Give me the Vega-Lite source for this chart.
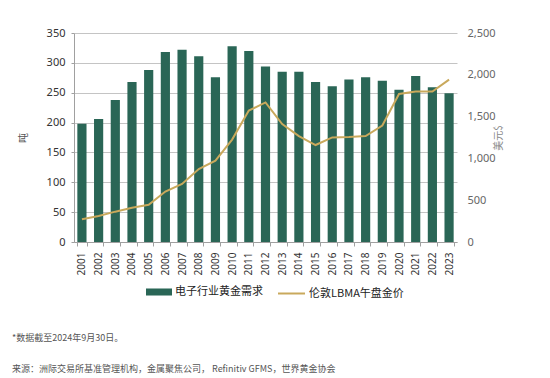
{
  "$schema": "https://vega.github.io/schema/vega-lite/v6.json",
  "autosize": "none",
  "width": 383,
  "height": 209,
  "padding": {"left": 74, "top": 33, "right": 93, "bottom": 136},
  "background": "white",
  "config": {
    "font": "Noto Sans, Noto Sans CJK SC",
    "view": {"stroke": null},
    "axis": {"labelFont": "Noto Sans, Noto Sans CJK SC", "titleFont": "Noto Sans CJK SC"}
  },
  "data": {
    "values": [
      {"year": "2001", "demand": 198, "price": 271},
      {"year": "2002", "demand": 206, "price": 310},
      {"year": "2003", "demand": 238, "price": 363},
      {"year": "2004", "demand": 268, "price": 410},
      {"year": "2005", "demand": 288, "price": 445},
      {"year": "2006", "demand": 318, "price": 604},
      {"year": "2007", "demand": 322, "price": 695},
      {"year": "2008", "demand": 311, "price": 872},
      {"year": "2009", "demand": 276, "price": 972},
      {"year": "2010", "demand": 328, "price": 1225},
      {"year": "2011", "demand": 320, "price": 1572},
      {"year": "2012", "demand": 294, "price": 1669},
      {"year": "2013", "demand": 285, "price": 1411},
      {"year": "2014", "demand": 285, "price": 1266},
      {"year": "2015", "demand": 268, "price": 1160},
      {"year": "2016", "demand": 261, "price": 1251},
      {"year": "2017", "demand": 272, "price": 1257},
      {"year": "2018", "demand": 276, "price": 1268},
      {"year": "2019", "demand": 270, "price": 1393},
      {"year": "2020", "demand": 255, "price": 1770},
      {"year": "2021", "demand": 278, "price": 1799},
      {"year": "2022", "demand": 259, "price": 1800},
      {"year": "2023", "demand": 249, "price": 1943}
    ]
  },
  "title": {
    "text": "*数据截至2024年9月30日。",
    "subtitle": "来源：洲际交易所基准管理机构，金属聚焦公司， Refinitiv GFMS，世界黄金协会",
    "orient": "bottom",
    "anchor": "start",
    "frame": "group",
    "dx": -62,
    "offset": 35,
    "font": "Noto Sans CJK SC",
    "fontSize": 9,
    "fontWeight": "normal",
    "color": "#555555",
    "subtitleFont": "Noto Sans CJK SC",
    "subtitleFontSize": 9,
    "subtitleColor": "#555555",
    "subtitlePadding": 22
  },
  "encoding": {
    "x": {
      "field": "year",
      "type": "ordinal",
      "scale": {"paddingInner": 0.45, "paddingOuter": 0.2},
      "axis": {
        "title": null,
        "labelAngle": -90,
        "labelAlign": "right",
        "labelBaseline": "middle",
        "labelFontSize": 10,
        "labelColor": "#333333",
        "labelPadding": 6,
        "tickBand": "extent",
        "tickSize": 4,
        "tickColor": "#a0a0a0",
        "domainColor": "#a0a0a0",
        "grid": false
      }
    }
  },
  "layer": [
    {
      "mark": {"type": "bar"},
      "encoding": {
        "y": {
          "field": "demand",
          "type": "quantitative",
          "scale": {"domain": [0, 350], "nice": false},
          "axis": {
            "title": "吨",
            "titleFontSize": 10,
            "titleFontWeight": "normal",
            "titleColor": "#555555",
            "titlePadding": 18,
            "values": [0, 50, 100, 150, 200, 250, 300, 350],
            "labelFontSize": 11,
            "labelColor": "#333333",
            "labelPadding": 6,
            "ticks": true,
            "tickSize": 3,
            "tickColor": "#a0a0a0",
            "domainColor": "#a0a0a0",
            "gridColor": "#c4c4c4",
            "gridWidth": 1
          }
        },
        "fill": {
          "datum": "电子行业黄金需求",
          "type": "nominal",
          "scale": {"range": ["#2a6656"]},
          "legend": {
            "title": null,
            "orient": "none",
            "legendX": 72,
            "legendY": 246,
            "symbolType": "M-1,-0.27H1V0.27H-1Z",
            "symbolSize": 676,
            "symbolStrokeWidth": 0,
            "labelFont": "Noto Sans CJK SC",
            "labelFontSize": 11,
            "labelColor": "#222222",
            "labelOffset": 3
          }
        }
      }
    },
    {
      "mark": {"type": "line", "strokeWidth": 2},
      "encoding": {
        "y": {
          "field": "price",
          "type": "quantitative",
          "scale": {"domain": [0, 2500], "nice": false},
          "axis": {
            "orient": "right",
            "title": "美元$",
            "titleAngle": -90,
            "titleFontSize": 10,
            "titleFontWeight": "normal",
            "titleColor": "#888888",
            "titlePadding": 8,
            "values": [0, 500, 1000, 1500, 2000, 2500],
            "format": ",.0f",
            "labelFontSize": 11,
            "labelColor": "#666666",
            "labelPadding": 10,
            "ticks": false,
            "domain": false,
            "grid": false
          }
        },
        "stroke": {
          "datum": "伦敦LBMA午盘金价",
          "type": "nominal",
          "scale": {"range": ["#c9a95c"]},
          "legend": {
            "title": null,
            "orient": "none",
            "legendX": 203,
            "legendY": 246,
            "symbolType": "stroke",
            "symbolSize": 729,
            "symbolStrokeWidth": 2,
            "labelFont": "Noto Sans CJK SC",
            "labelFontSize": 11,
            "labelColor": "#222222",
            "labelOffset": 3
          }
        }
      }
    }
  ],
  "resolve": {"scale": {"y": "independent"}}
}
